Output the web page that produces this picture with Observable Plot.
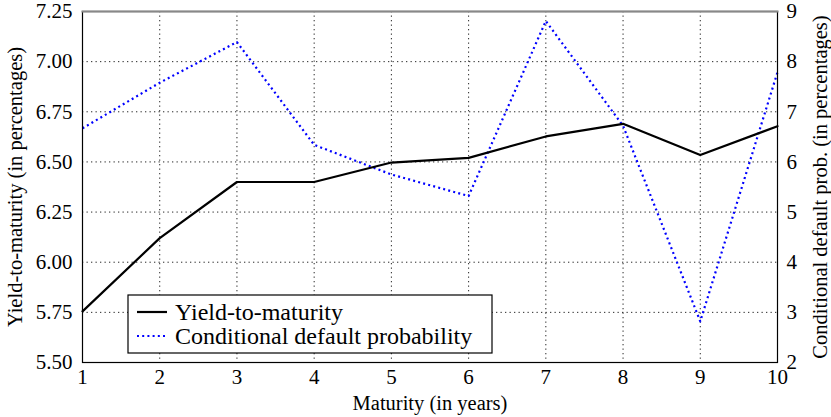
<!DOCTYPE html>
<html>
<head>
<meta charset="utf-8">
<script src="https://cdn.jsdelivr.net/npm/d3@7"></script>
<script src="https://cdn.jsdelivr.net/npm/@observablehq/plot@0.6"></script>
<style>
  html, body { margin: 0; padding: 0; background: white; }
  svg { display: block; }
</style>
</head>
<body>
<div id="chart"></div>
<script>
const maturities = [1, 2, 3, 4, 5, 6, 7, 8, 9, 10];
const yieldToMaturity = [5.755, 6.12, 6.40, 6.40, 6.497, 6.52, 6.627, 6.69, 6.535, 6.678];
const defaultProb = [6.67, 7.58, 8.39, 6.34, 5.75, 5.32, 8.81, 6.72, 2.82, 7.79];
const leftTicks = [5.50, 5.75, 6.00, 6.25, 6.50, 6.75, 7.00, 7.25];
const rightTicks = [2, 3, 4, 5, 6, 7, 8, 9];
const seriesNames = ["Yield-to-maturity", "Conditional default probability"];
const xLabel = "Maturity (in years)";
const yLeftLabel = "Yield-to-maturity (in percentages)";
const yRightLabel = "Conditional default prob. (in percentages)";

// map right-axis values onto left-axis domain
const leftDom = [5.5, 7.25], rightDom = [2, 9];
const toLeft = v => leftDom[0] + (v - rightDom[0]) * (leftDom[1] - leftDom[0]) / (rightDom[1] - rightDom[0]);
const toRight = v => rightDom[0] + (v - leftDom[0]) * (rightDom[1] - rightDom[0]) / (leftDom[1] - leftDom[0]);

const ytm = maturities.map((m, i) => ({x: m, y: yieldToMaturity[i]}));
const cdp = maturities.map((m, i) => ({x: m, y: toLeft(defaultProb[i])}));

const FONT = "Liberation Serif, Times New Roman, serif";

const chart = Plot.plot({
  width: 831,
  height: 417,
  marginLeft: 82,
  marginRight: 54,
  marginTop: 11,
  marginBottom: 55,
  style: {fontFamily: FONT, fontSize: "21px", background: "white", color: "black", overflow: "visible"},
  x: {domain: [1, 10], label: null},
  y: {domain: leftDom, label: null},
  marks: [
    Plot.gridX(maturities, {stroke: "black", strokeOpacity: 0.85, strokeDasharray: "1.3,3.2", strokeWidth: 1}),
    Plot.gridY(leftTicks, {stroke: "black", strokeOpacity: 0.85, strokeDasharray: "1.3,3.2", strokeWidth: 1}),
    Plot.line(cdp, {x: "x", y: "y", stroke: "#0000ff", strokeWidth: 2.2, strokeDasharray: "2,3.2", strokeLinecap: "butt"}),
    Plot.line(ytm, {x: "x", y: "y", stroke: "black", strokeWidth: 2.2}),
    Plot.frame({stroke: "black", strokeWidth: 1.2}),
    Plot.frame({anchor: "top", stroke: "#888", strokeWidth: 2}),
    Plot.axisX(maturities, {anchor: "bottom", tickSize: 0, tickPadding: 7, tickFormat: d => String(d), label: null}),
    Plot.axisY(leftTicks, {anchor: "left", tickSize: 0, tickPadding: 10, tickFormat: d => d.toFixed(2), label: null}),
    Plot.axisY(rightTicks.map(toLeft), {anchor: "right", tickSize: 0, tickPadding: 9, tickFormat: d => String(Math.round(toRight(d))), label: null}),
    Plot.text([xLabel], {frameAnchor: "bottom", dy: 41, fontSize: 20.5, fill: "black", textAnchor: "middle", lineAnchor: "middle"}),
    Plot.text([yLeftLabel], {frameAnchor: "left", dx: -67, rotate: -90, fontSize: 20.5, fill: "black", textAnchor: "middle", lineAnchor: "middle"}),
    Plot.text([yRightLabel], {frameAnchor: "right", dx: 43, rotate: -90, fontSize: 20.5, fill: "black", textAnchor: "middle", lineAnchor: "middle"})
  ]
});

document.getElementById("chart").appendChild(chart);

// legend inside the plot area (lower left)
const svg = d3.select(chart);
const lg = svg.append("g").attr("transform", "translate(128,295)")
  .attr("font-family", FONT).attr("font-size", 24).attr("text-anchor", "start");
lg.append("rect").attr("x", 0).attr("y", 0).attr("width", 364).attr("height", 58)
  .attr("fill", "white").attr("stroke", "black").attr("stroke-width", 1.2);
const entries = [
  {name: seriesNames[0], stroke: "black", dash: null},
  {name: seriesNames[1], stroke: "#0000ff", dash: "2,3.2"}
];
entries.forEach((e, i) => {
  const cy = 17 + i * 24;
  lg.append("line").attr("x1", 9).attr("x2", 39).attr("y1", cy).attr("y2", cy)
    .attr("stroke", e.stroke).attr("stroke-width", 2.2).attr("stroke-dasharray", e.dash);
  lg.append("text").attr("x", 47).attr("y", cy).attr("dy", "0.35em").attr("fill", "black").text(e.name);
});
</script>
</body>
</html>
